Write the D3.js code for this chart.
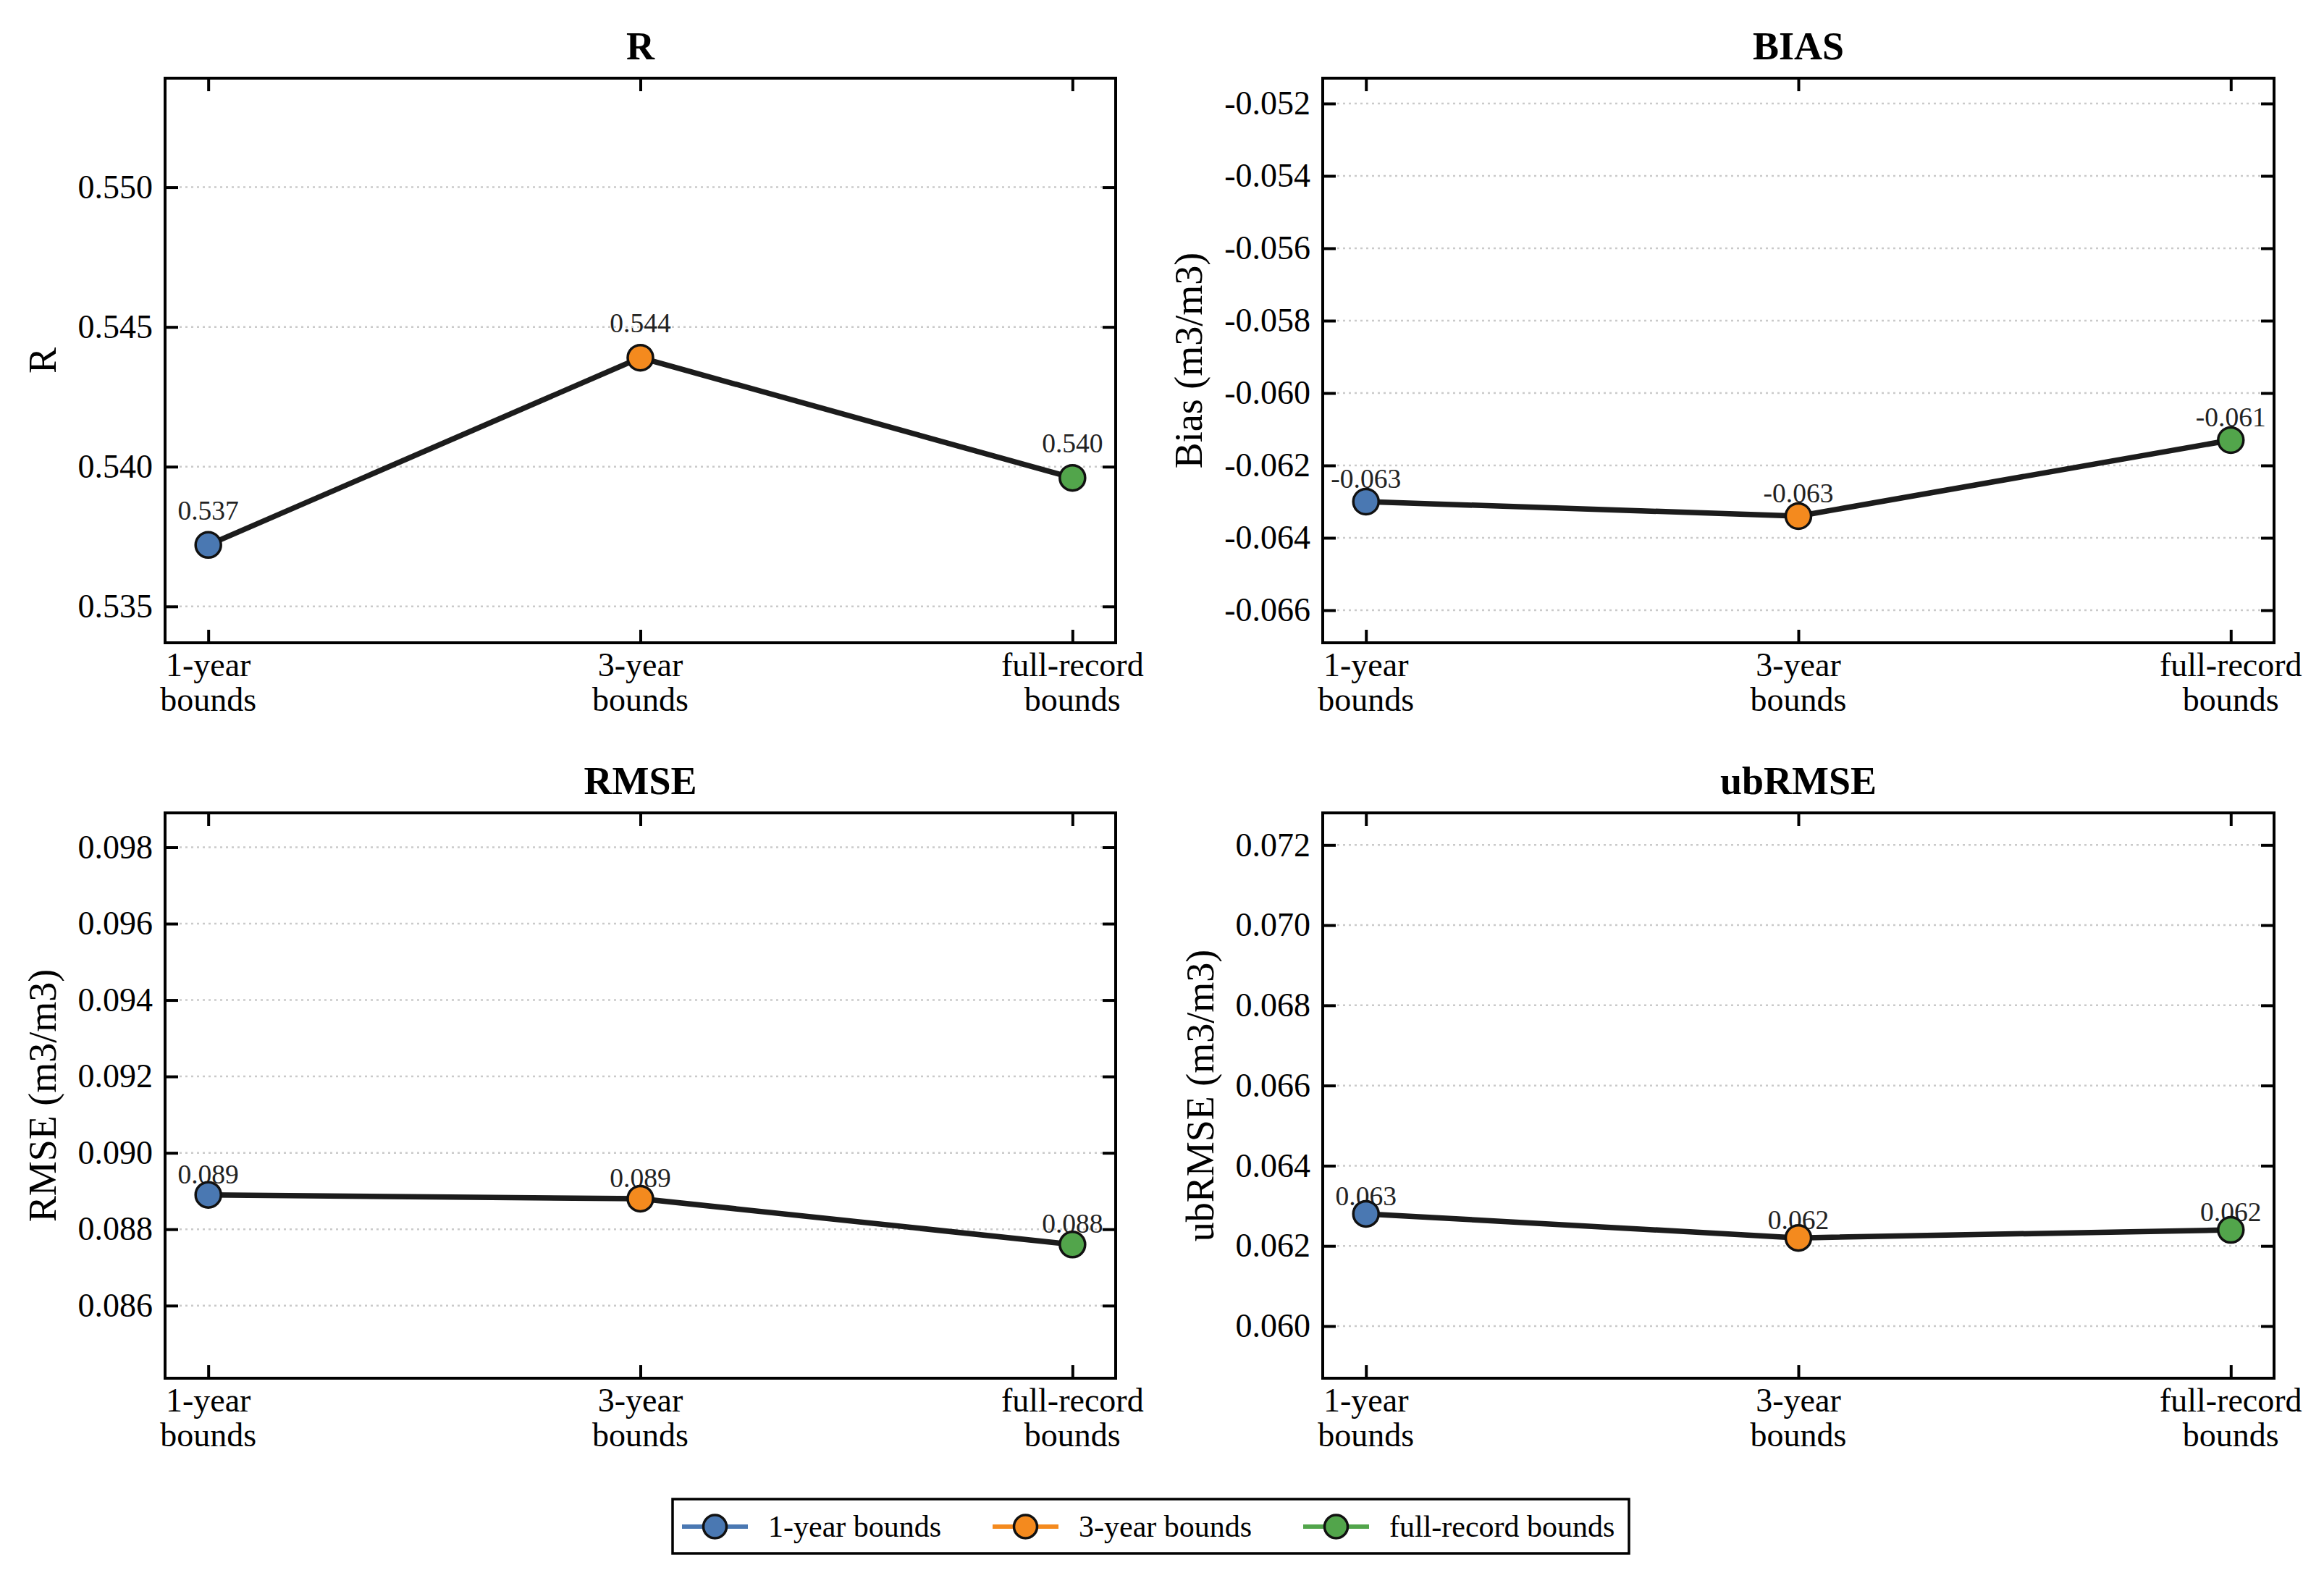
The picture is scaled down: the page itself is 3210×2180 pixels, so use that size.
<!DOCTYPE html>
<html lang="en">
  <head>
    <meta charset="UTF-8">
    <script type="text/javascript" src="https://cdn.jsdelivr.net/npm/d3@7"></script>
    <title>Bounds comparison</title>
    <style>
      body { margin: 0; background: #fff; }
      text { font-family: 'Liberation Serif', 'Times New Roman', serif; }
    </style>
  </head>
  <body>
    <script type="text/javascript">
      let w = 3210;
      let h = 2180;

      // categories and legend names
      let categories = ['1-year bounds', '3-year bounds', 'full-record bounds'];
      let catLines = [['1-year', 'bounds'], ['3-year', 'bounds'], ['full-record', 'bounds']];
      let colors = ['#4a78b2', '#f48a1e', '#52a54b'];

      // metric values
      let rValues = [0.5372, 0.5439, 0.5396];
      let biasValues = [-0.0630, -0.0634, -0.0613];
      let rmseValues = [0.0889, 0.0888, 0.0876];
      let ubrmseValues = [0.0628, 0.0622, 0.0624];

      // y tick values
      let rTicks = [0.535, 0.540, 0.545, 0.550];
      let biasTicks = [-0.066, -0.064, -0.062, -0.060, -0.058, -0.056, -0.054, -0.052];
      let rmseTicks = [0.086, 0.088, 0.090, 0.092, 0.094, 0.096, 0.098];
      let ubrmseTicks = [0.060, 0.062, 0.064, 0.066, 0.068, 0.070, 0.072];

      let panels = [
        { title: 'R', ylabel: 'R', values: rValues, ticks: rTicks, x0: 228, x1: 1541, y0: 108, y1: 888 },
        { title: 'BIAS', ylabel: 'Bias (m3/m3)', values: biasValues, ticks: biasTicks, x0: 1827, x1: 3141, y0: 108, y1: 888 },
        { title: 'RMSE', ylabel: 'RMSE (m3/m3)', values: rmseValues, ticks: rmseTicks, x0: 228, x1: 1541, y0: 1123, y1: 1904 },
        { title: 'ubRMSE', ylabel: 'ubRMSE (m3/m3)', values: ubrmseValues, ticks: ubrmseTicks, x0: 1827, x1: 3141, y0: 1123, y1: 1904 }
      ];

      let svg = d3.select('body')
                  .append('svg')
                  .attr('width', w)
                  .attr('height', h);

      svg.append('rect').attr('width', w).attr('height', h).attr('fill', '#fff');

      // plain hyphen for negatives, like the original
      let fmt = v => d3.format('.3f')(v).replace('\u2212', '-');
      let serif = "'Liberation Serif', 'Times New Roman', serif";
      let tickLen = 18;

      panels.forEach(p => {
        let idx = d3.range(categories.length);
        let xScale = d3.scaleLinear()
                        .domain([-0.1, categories.length - 1 + 0.1])
                        .range([p.x0, p.x1]);
        let lo = d3.min(p.values), hi = d3.max(p.values);
        let yScale = d3.scaleLinear()
                        .domain([lo - 0.0035, hi + 0.01])
                        .range([p.y1, p.y0]);

        let g = svg.append('g');

        // dotted grid
        g.selectAll('.grid')
          .data(p.ticks)
          .enter()
          .append('line')
          .attr('x1', p.x0 + 4).attr('x2', p.x1 - 4)
          .attr('y1', d => yScale(d)).attr('y2', d => yScale(d))
          .attr('stroke', '#cacaca')
          .attr('stroke-width', 2.5)
          .attr('stroke-dasharray', '3,5');

        // left axis, ticks inward
        let yLeft = g.append('g')
          .attr('transform', `translate(${p.x0},0)`)
          .call(d3.axisLeft(yScale).tickValues(p.ticks).tickFormat(fmt)
                  .tickSizeInner(-tickLen).tickSizeOuter(0).tickPadding(17));
        let yRight = g.append('g')
          .attr('transform', `translate(${p.x1},0)`)
          .call(d3.axisRight(yScale).tickValues(p.ticks).tickFormat('')
                  .tickSizeInner(-tickLen).tickSizeOuter(0));
        let xBottom = g.append('g')
          .attr('transform', `translate(0,${p.y1})`)
          .call(d3.axisBottom(xScale).tickValues(idx).tickFormat('')
                  .tickSizeInner(-tickLen).tickSizeOuter(0));
        let xTop = g.append('g')
          .attr('transform', `translate(0,${p.y0})`)
          .call(d3.axisTop(xScale).tickValues(idx).tickFormat('')
                  .tickSizeInner(-tickLen).tickSizeOuter(0));

        [yLeft, yRight, xBottom, xTop].forEach(a => {
          a.attr('font-family', null);
          a.select('.domain').remove();
          a.selectAll('line').attr('stroke', '#000').attr('stroke-width', 4);
        });
        yLeft.selectAll('text')
          .style('font-family', serif)
          .style('font-size', '46px')
          .attr('fill', '#000');

        // frame
        g.append('rect')
          .attr('x', p.x0).attr('y', p.y0)
          .attr('width', p.x1 - p.x0).attr('height', p.y1 - p.y0)
          .attr('fill', 'none')
          .attr('stroke', '#000')
          .attr('stroke-width', 4);

        // category labels, two lines
        let xl = g.selectAll('.xlab')
          .data(catLines)
          .enter()
          .append('text')
          .attr('x', (d, i) => xScale(i))
          .attr('y', p.y1 + 46)
          .attr('text-anchor', 'middle')
          .attr('font-size', 46)
          .attr('fill', '#000');
        xl.append('tspan').attr('x', (d, i) => xScale(i)).attr('dy', 0).text(d => d[0]);
        xl.append('tspan').attr('x', (d, i) => xScale(i)).attr('dy', 48).text(d => d[1]);

        // y label placed left of the tick labels
        let maxW = d3.max(yLeft.selectAll('text').nodes(), n => n.getComputedTextLength());
        let labX = p.x0 - 17 - maxW - 17 - 14;
        g.append('text')
          .attr('transform', `translate(${labX},${(p.y0 + p.y1) / 2}) rotate(-90)`)
          .attr('text-anchor', 'middle')
          .attr('font-size', 54)
          .attr('fill', '#000')
          .text(p.ylabel);

        // title
        g.append('text')
          .attr('x', (p.x0 + p.x1) / 2)
          .attr('y', p.y0 - 26)
          .attr('text-anchor', 'middle')
          .attr('font-size', 54)
          .attr('font-weight', 'bold')
          .attr('fill', '#000')
          .text(p.title);

        // value labels
        let off = 0.1 * (hi - lo);
        g.selectAll('.vlab')
          .data(p.values)
          .enter()
          .append('text')
          .attr('x', (d, i) => xScale(i))
          .attr('y', d => yScale(d + off) - 9)
          .attr('text-anchor', 'middle')
          .attr('font-size', 37.5)
          .attr('fill', '#222')
          .text(d => fmt(d));

        // connecting line
        let line = d3.line()
                      .x((d, i) => xScale(i))
                      .y(d => yScale(d));
        g.append('path')
          .datum(p.values)
          .attr('d', line)
          .attr('fill', 'none')
          .attr('stroke', '#1c1c1c')
          .attr('stroke-width', 7.5)
          .attr('stroke-linejoin', 'round');

        // markers
        g.selectAll('.dot')
          .data(p.values)
          .enter()
          .append('circle')
          .attr('cx', (d, i) => xScale(i))
          .attr('cy', d => yScale(d))
          .attr('r', 17.5)
          .attr('fill', (d, i) => colors[i])
          .attr('stroke', '#111')
          .attr('stroke-width', 3.5);
      });

      // legend
      let lg = svg.append('g');
      lg.append('rect')
        .attr('x', 929).attr('y', 2071)
        .attr('width', 1321).attr('height', 75)
        .attr('fill', '#fff')
        .attr('stroke', '#000')
        .attr('stroke-width', 3.5);

      let legendX = d3.scalePoint()
                      .domain(categories)
                      .range([942, 1800]);
      let item = lg.selectAll('.item')
        .data(categories)
        .enter()
        .append('g')
        .attr('transform', d => `translate(${legendX(d)},2109)`);
      item.append('line')
        .attr('x1', 0).attr('x2', 91)
        .attr('stroke', (d, i) => colors[i])
        .attr('stroke-width', 6);
      item.append('circle')
        .attr('cx', 45.5)
        .attr('r', 16)
        .attr('fill', (d, i) => colors[i])
        .attr('stroke', '#111')
        .attr('stroke-width', 3.5);
      item.append('text')
        .attr('x', 119)
        .attr('dy', '0.33em')
        .attr('font-size', 42)
        .attr('fill', '#000')
        .text(d => d);
    </script>
  </body>
</html>
